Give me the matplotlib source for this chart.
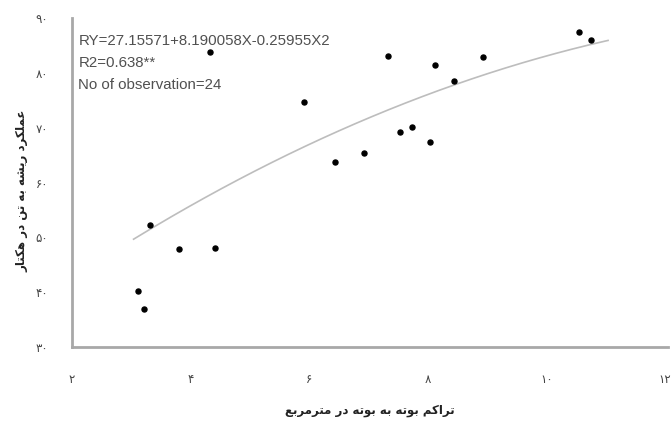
import numpy as np
import matplotlib
matplotlib.use('Agg')
import matplotlib.pyplot as plt

# Dados (densidade x rendimento)
densidade = [3.11, 3.21, 3.31, 3.81, 4.32, 4.42, 5.91, 6.43, 6.92, 7.33,
             7.53, 7.73, 8.03, 8.13, 8.44, 8.93, 10.55, 10.75]
rendimento = [40.2, 36.9, 52.3, 47.8, 83.9, 48.1, 74.7, 63.8, 65.4, 83.1,
              69.2, 70.1, 67.4, 81.4, 78.5, 82.9, 87.5, 86.1]

# coeficientes da equação mostrada no gráfico (RY = a + bX + cX2)
coef_a = 27.15571
coef_b = 8.190058
coef_c = -0.25955
curva_inicio = 3.04
curva_fim = 11.04

x_ticks = [2, 4, 6, 8, 10, 12]
y_ticks = [30, 40, 50, 60, 70, 80, 90]

textos = ['RY=27.15571+8.190058X-0.25955X2', 'R2=0.638**', 'No of observation=24']
ylabel = 'عملکرد ریشه به تن در هکتار'
xlabel = 'تراکم بوته به بوته در مترمربع'


# matplotlib não faz o "shaping" do persa, então converto para as formas de apresentação
formas = {
    'ا': ('\uFE8D', '\uFE8E', None, None),
    'ب': ('\uFE8F', '\uFE90', '\uFE91', '\uFE92'),
    'ت': ('\uFE95', '\uFE96', '\uFE97', '\uFE98'),
    'د': ('\uFEA9', '\uFEAA', None, None),
    'ر': ('\uFEAD', '\uFEAE', None, None),
    'ش': ('\uFEB5', '\uFEB6', '\uFEB7', '\uFEB8'),
    'ع': ('\uFEC9', '\uFECA', '\uFECB', '\uFECC'),
    'ل': ('\uFEDD', '\uFEDE', '\uFEDF', '\uFEE0'),
    'م': ('\uFEE1', '\uFEE2', '\uFEE3', '\uFEE4'),
    'ن': ('\uFEE5', '\uFEE6', '\uFEE7', '\uFEE8'),
    'ه': ('\uFEE9', '\uFEEA', '\uFEEB', '\uFEEC'),
    'و': ('\uFEED', '\uFEEE', None, None),
    'ک': ('\uFB8E', '\uFB8F', '\uFB90', '\uFB91'),
    'ی': ('\uFBFC', '\uFBFD', '\uFBFE', '\uFBFF'),
}


def junta_depois(ch):
    return ch in formas and formas[ch][2] is not None


def persa(txt):
    out = []
    for i, ch in enumerate(txt):
        if ch not in formas:
            out.append(ch)
            continue
        antes = i > 0 and junta_depois(txt[i - 1])
        depois = i < len(txt) - 1 and txt[i + 1] in formas and junta_depois(ch)
        iso, fin, ini, med = formas[ch]
        if antes and depois:
            out.append(med)
        elif antes:
            out.append(fin)
        elif depois:
            out.append(ini)
        else:
            out.append(iso)
    return ''.join(out)[::-1]


def digitos(n):
    return str(n).translate(str.maketrans('0123456789', '۰۱۲۳۴۵۶۷۸۹'))


fig = plt.figure(figsize=(6.72, 4.23), dpi=100)
ax = fig.add_axes([0.107, 0.18, 0.887, 0.777])

ax.scatter(densidade, rendimento, s=13, color='black', zorder=3)

xc = np.linspace(curva_inicio, curva_fim, 200)
yc = coef_a + coef_b * xc + coef_c * xc ** 2
ax.plot(xc, yc, color='#bdbdbd', lw=1.2, zorder=2)

ax.set_xlim(2, 12.05)
ax.set_ylim(30, 90)
ax.set_xticks(x_ticks)
ax.set_xticklabels([digitos(v) for v in x_ticks])
ax.set_yticks(y_ticks)
ax.set_yticklabels([digitos(v) for v in y_ticks])
ax.tick_params(axis='x', length=0, pad=19, labelsize=8.5, labelcolor='#444444')
ax.tick_params(axis='y', length=0, pad=17, labelsize=8.5, labelcolor='#444444')

for s in ['top', 'right']:
    ax.spines[s].set_visible(False)
for s in ['left', 'bottom']:
    ax.spines[s].set_color('#a8a8a8')
    ax.spines[s].set_linewidth(2)

ypos = [0.93, 0.863, 0.797]
for t, yy in zip(textos, ypos):
    ax.text(0.011, yy, t, transform=ax.transAxes, fontsize=10.8, color='#505050',
            va='center', ha='left', family='Liberation Sans')

fig.text(0.551, 0.03, persa(xlabel), ha='center', va='center', fontsize=8.5,
         fontweight='bold', color='#222222')
fig.text(0.032, 0.55, persa(ylabel), ha='center', va='center', fontsize=8.5,
         fontweight='bold', color='#222222', rotation=90)

fig.savefig('out.png', dpi=100)
